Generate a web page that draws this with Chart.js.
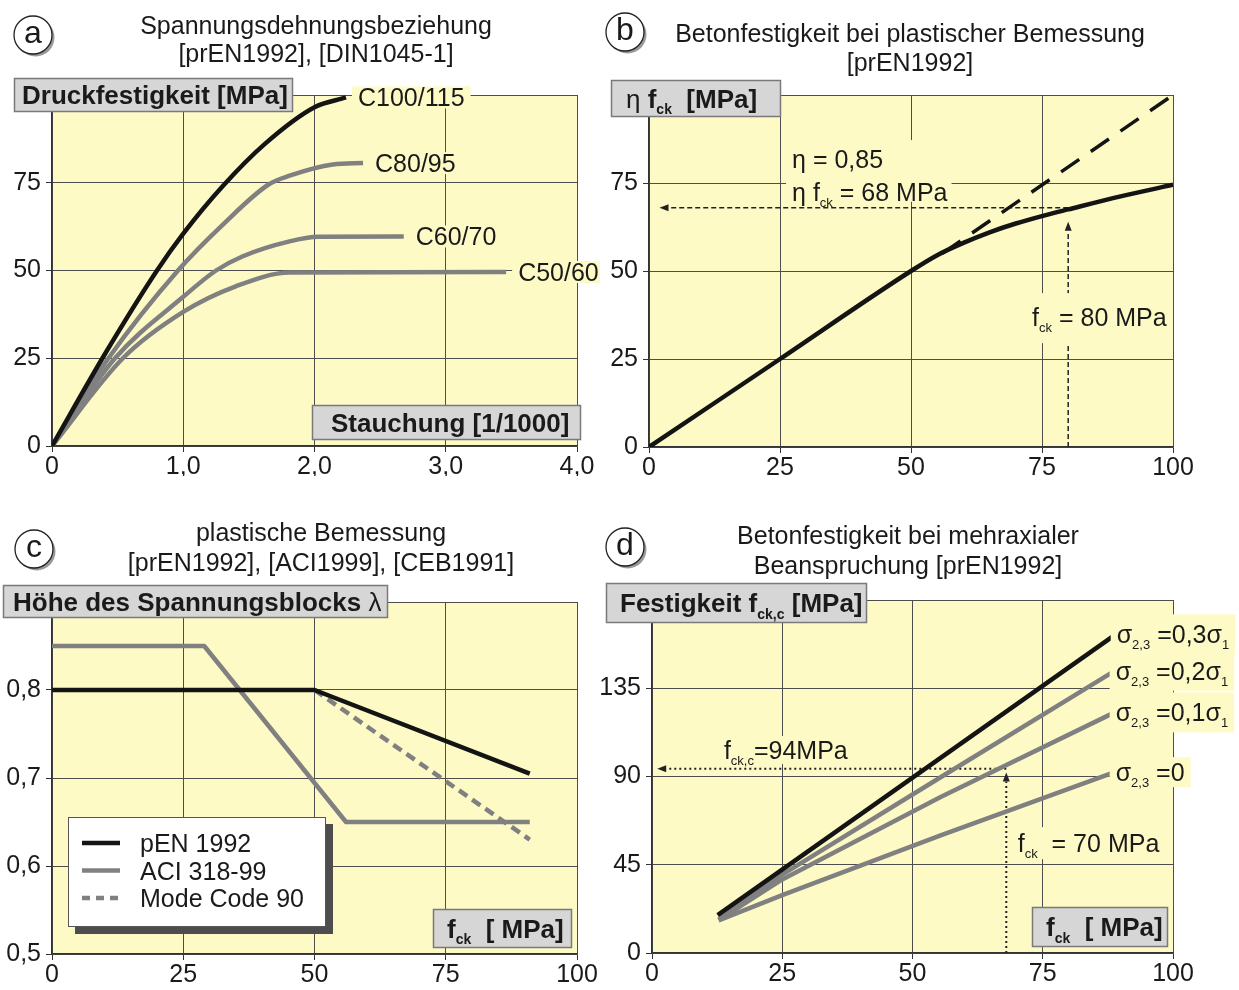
<!DOCTYPE html>
<html>
<head>
<meta charset="utf-8">
<title>Betonfestigkeit</title>
<script src="https://cdn.jsdelivr.net/npm/chart.js@4.4.1/dist/chart.umd.min.js"></script>
<style>
    html, body { margin: 0; padding: 0; background: #fff; }
    #wrap { position: relative; width: 1239px; height: 990px; overflow: hidden; }
    canvas { position: absolute; }
</style>
</head>
<body>
<div id="wrap">
    <canvas id="chart-a" width="600" height="495" style="left:0;top:0"></canvas>
    <canvas id="chart-b" width="639" height="495" style="left:600px;top:0"></canvas>
    <canvas id="chart-c" width="600" height="495" style="left:0;top:495px"></canvas>
    <canvas id="chart-d" width="639" height="495" style="left:600px;top:495px"></canvas>
</div>
<script>
// (a) Spannungsdehnungsbeziehung
var aClasses = ['C100/115', 'C80/95', 'C60/70', 'C50/60'];
var aStrainC100 = [0, 0.4, 0.8, 1.0, 1.3, 1.62, 2.0, 2.24];
var aStressC100 = [0, 26, 50, 60.5, 74, 86, 96.5, 99.3];
var aStrainC80 = [0, 0.43, 0.96, 1.3, 1.65, 1.81, 2.14, 2.37];
var aStressC80 = [0, 25, 50, 63, 74.5, 77, 80.2, 80.6];
var aStrainC60 = [0, 0.48, 1.0, 1.25, 1.45, 1.81, 2.03, 2.68];
var aStressC60 = [0, 25, 42.5, 50, 54, 58.3, 59.6, 59.7];
var aStrainC50 = [0, 0.54, 1.0, 1.4, 1.81, 3.46];
var aStressC50 = [0, 25, 38.2, 45.5, 49.4, 49.6];
var aXTickVals = [0, 1, 2, 3, 4];
var aXTickLabels = ['0', '1,0', '2,0', '3,0', '4,0'];
var aYTickVals = [0, 25, 50, 75, 100];
var aYTickLabels = ['0', '25', '50', '75', ''];

// (b) Betonfestigkeit bei plastischer Bemessung
var bFck = [0, 25, 50, 55, 60, 65, 70, 75, 80, 90, 100];
var bEtaFck = [0, 25, 50, 54.5, 58, 61, 63.5, 65.6, 67.5, 71.2, 74.5];
var bRefFck = [56, 100];
var bRefVal = [55, 100];
var bMarkFck = 80;
var bMarkEtaFck = 68;
var bMarkTip = 64;
var bTickVals = [0, 25, 50, 75, 100];
var bXTickLabels = ['0', '25', '50', '75', '100'];
var bYTickLabels = ['0', '25', '50', '75', ''];

// (c) plastische Bemessung, Hoehe des Spannungsblocks
var cSeries = ['pEN 1992', 'ACI 318-99', 'Mode Code 90'];
var cEnFck = [0, 50, 91];
var cEnLambda = [0.8, 0.8, 0.705];
var cAciFck = [0, 29, 56, 91];
var cAciLambda = [0.85, 0.85, 0.65, 0.65];
var cMcFck = [50, 91];
var cMcLambda = [0.8, 0.63];
var cXTickVals = [0, 25, 50, 75, 100];
var cXTickLabels = ['0', '25', '50', '75', '100'];
var cYTickVals = [0.5, 0.6, 0.7, 0.8, 0.9];
var cYTickLabels = ['0,5', '0,6', '0,7', '0,8', ''];

// (d) mehraxiale Beanspruchung
var dRatios = ['0,3', '0,2', '0,1', '0'];
var dFck03 = [12.6, 89];
var dFcc03 = [19.3, 162.5];
var dFck02 = [12.8, 25, 55.4, 88.8];
var dFcc02 = [17, 40, 89.6, 143.9];
var dFck01 = [12.8, 25, 55.4, 88.8];
var dFcc01 = [16.8, 37.5, 79.5, 122.7];
var dFck0 = [12.8, 25, 55.4, 88.8];
var dFcc0 = [16.6, 29.5, 60, 92.2];
var dMarkFck = 68;
var dMarkFcc = 94;
var dMarkTip = 92;
var dXTickVals = [0, 25, 50, 75, 100];
var dXTickLabels = ['0', '25', '50', '75', '100'];
var dYTickVals = [0, 45, 90, 135, 180];
var dYTickLabels = ['0', '45', '90', '135', ''];

var FONT = "'Liberation Sans', Arial, Helvetica, sans-serif";
var PLOT_BG = '#fdfac6';
var INK = '#1a1a1a';
var BLACK = '#141414';
var GREY = '#808080';

function pts(xs, ys) {
    return xs.map(function (x, i) { return { x: x, y: ys[i] }; });
}

// text with subscripts: parts = [[text, flags]], flags 'b' bold, 's' subscript
function rich(ctx, parts, x, y, size, align) {
    var items = [], total = 0;
    parts.forEach(function (p) {
        var f = p[1] || '';
        var sub = f.indexOf('s') >= 0, bold = f.indexOf('b') >= 0;
        var fs = sub ? Math.round(size * 0.52) : size;
        var font = (bold ? 'bold ' : '') + fs + 'px ' + FONT;
        ctx.font = font;
        var w = ctx.measureText(p[0]).width;
        items.push({ t: p[0], font: font, w: w, dy: sub ? size * 0.24 : 0 });
        total += w;
    });
    var sx = align === 'center' ? x - total / 2 : x;
    var base = y + size * 0.36;
    ctx.save();
    ctx.fillStyle = INK;
    ctx.textAlign = 'left';
    ctx.textBaseline = 'alphabetic';
    items.forEach(function (it) {
        ctx.font = it.font;
        ctx.fillText(it.t, sx, base + it.dy);
        sx += it.w;
    });
    ctx.restore();
    return total;
}

function measureRich(ctx, parts, size) {
    var total = 0;
    parts.forEach(function (p) {
        var f = p[1] || '';
        var sub = f.indexOf('s') >= 0, bold = f.indexOf('b') >= 0;
        ctx.font = (bold ? 'bold ' : '') + (sub ? Math.round(size * 0.52) : size) + 'px ' + FONT;
        total += ctx.measureText(p[0]).width;
    });
    return total;
}

function fillRect(ctx, x, y, w, h, color) {
    ctx.save();
    ctx.fillStyle = color;
    ctx.fillRect(x, y, w, h);
    ctx.restore();
}

function greyBox(ctx, x, y, w, h, parts, tx) {
    ctx.save();
    ctx.fillStyle = '#d6d6d6';
    ctx.fillRect(x, y, w, h);
    ctx.strokeStyle = '#7a7a7a';
    ctx.lineWidth = 1.5;
    ctx.strokeRect(x + 0.5, y + 0.5, w - 1, h - 1);
    ctx.restore();
    rich(ctx, parts, tx, y + h / 2, 26, 'left');
}

function circleLetter(ctx, cx, cy, r, letter) {
    ctx.save();
    ctx.fillStyle = '#9a9a9a';
    ctx.beginPath();
    ctx.arc(cx + 2.5, cy + 2.5, r, 0, Math.PI * 2);
    ctx.fill();
    ctx.fillStyle = '#fff';
    ctx.strokeStyle = '#222';
    ctx.lineWidth = 1.3;
    ctx.beginPath();
    ctx.arc(cx, cy, r, 0, Math.PI * 2);
    ctx.fill();
    ctx.stroke();
    ctx.fillStyle = INK;
    ctx.font = '32px ' + FONT;
    ctx.textAlign = 'center';
    ctx.textBaseline = 'middle';
    ctx.fillText(letter, cx, cy - 1);
    ctx.restore();
}

function titles(ctx, lines, cx, ys) {
    lines.forEach(function (t, i) { rich(ctx, [[t]], cx, ys[i], 25, 'center'); });
}

function arrow(ctx, x1, y1, x2, y2, dash, width) {
    var ang = Math.atan2(y2 - y1, x2 - x1), head = 9, hw = 3.5;
    var ex = x2 - Math.cos(ang) * head, ey = y2 - Math.sin(ang) * head;
    ctx.save();
    ctx.strokeStyle = '#222';
    ctx.fillStyle = '#222';
    ctx.lineWidth = width;
    ctx.setLineDash(dash);
    ctx.beginPath();
    ctx.moveTo(x1, y1);
    ctx.lineTo(ex, ey);
    ctx.stroke();
    ctx.setLineDash([]);
    ctx.beginPath();
    ctx.moveTo(x2, y2);
    ctx.lineTo(ex - Math.sin(ang) * hw, ey + Math.cos(ang) * hw);
    ctx.lineTo(ex + Math.sin(ang) * hw, ey - Math.cos(ang) * hw);
    ctx.closePath();
    ctx.fill();
    ctx.restore();
}

// label next to the last point of a dataset, on a plot-coloured patch
function endLabel(chart, index, parts, dx, padY) {
    var meta = chart.getDatasetMeta(index);
    var last = meta.data[meta.data.length - 1];
    var ctx = chart.ctx;
    var w = measureRich(ctx, parts, 25);
    var x = last.x + dx;
    fillRect(ctx, x - 6, last.y - padY, w + 12, padY * 2, PLOT_BG);
    rich(ctx, parts, x, last.y, 25, 'left');
}

function options(p) {
    var gridColor = '#4d4d4d';
    return {
        responsive: false,
        animation: false,
        layout: {
            padding: { left: 0, top: p.area.t, right: p.w - p.area.r, bottom: p.h - p.area.b - 30 },
        },
        plugins: {
            legend: { display: false },
            tooltip: { enabled: false },
        },
        elements: {
            point: { radius: 0 },
            line: { borderCapStyle: 'butt', borderJoinStyle: 'round' },
        },
        scales: {
            x: {
                type: 'linear',
                min: p.xTicks[0],
                max: p.xTicks[p.xTicks.length - 1],
                afterBuildTicks: function (s) { s.ticks = p.xTicks.map(function (v) { return { value: v }; }); },
                afterFit: function (s) { s.height = 30; },
                ticks: {
                    autoSkip: false,
                    maxRotation: 0,
                    padding: 0,
                    color: INK,
                    font: { family: FONT, size: 25 },
                    callback: function (v, i) { return p.xLabels[i]; },
                },
                grid: { color: gridColor, lineWidth: 1, tickLength: 6, tickColor: '#333' },
                border: { color: '#333', width: 1.5 },
            },
            y: {
                type: 'linear',
                min: p.yTicks[0],
                max: p.yTicks[p.yTicks.length - 1],
                afterBuildTicks: function (s) { s.ticks = p.yTicks.map(function (v) { return { value: v }; }); },
                afterFit: function (s) { s.width = p.area.l; },
                ticks: {
                    autoSkip: false,
                    padding: 5,
                    color: INK,
                    font: { family: FONT, size: 25 },
                    callback: function (v, i) { return p.yLabels[i]; },
                },
                grid: { color: gridColor, lineWidth: 1, tickLength: 6, tickColor: '#333' },
                border: { color: '#333', width: 1.5 },
            },
        },
    };
}

var plotBg = {
    id: 'plotBg',
    beforeDraw: function (chart) {
        var a = chart.chartArea;
        fillRect(chart.ctx, a.left, a.top, a.right - a.left, a.bottom - a.top, PLOT_BG);
    },
};

function line(label, xs, ys, color, extra) {
    var ds = {
        label: label,
        data: pts(xs, ys),
        borderColor: color,
        borderWidth: 4.5,
        fill: false,
        tension: 0,
    };
    Object.keys(extra || {}).forEach(function (k) { ds[k] = extra[k]; });
    return ds;
}

// ---------- (a)
new Chart(document.getElementById('chart-a'), {
    type: 'line',
    data: {
        datasets: [
            line(aClasses[0], aStrainC100, aStressC100, BLACK, { cubicInterpolationMode: 'monotone' }),
            line(aClasses[1], aStrainC80, aStressC80, GREY, { cubicInterpolationMode: 'monotone' }),
            line(aClasses[2], aStrainC60, aStressC60, GREY, { cubicInterpolationMode: 'monotone' }),
            line(aClasses[3], aStrainC50, aStressC50, GREY, { cubicInterpolationMode: 'monotone' }),
        ],
    },
    options: options({
        w: 600, h: 495, area: { l: 52, t: 95, r: 577, b: 446 },
        xTicks: aXTickVals, xLabels: aXTickLabels, yTicks: aYTickVals, yLabels: aYTickLabels,
    }),
    plugins: [plotBg, {
        id: 'panelA',
        afterDatasetsDraw: function (chart) {
            var ctx = chart.ctx;
            aClasses.forEach(function (c, i) { endLabel(chart, i, [[c]], 12, 11); });
            greyBox(ctx, 14, 78, 279, 34, [['Druckfestigkeit [MPa]', 'b']], 22);
            greyBox(ctx, 312, 405, 269, 35, [['Stauchung [1/1000]', 'b']], 331);
            titles(ctx, ['Spannungsdehnungsbeziehung', '[prEN1992], [DIN1045-1]'], 316, [25, 53]);
            circleLetter(ctx, 33, 35, 19, 'a');
        },
    }],
});

// ---------- (b)
new Chart(document.getElementById('chart-b'), {
    type: 'line',
    data: {
        datasets: [
            line('\u03b7 fck', bFck, bEtaFck, BLACK, { cubicInterpolationMode: 'monotone', borderWidth: 4.5 }),
            line('fck', bRefFck, bRefVal, BLACK, { borderDash: [22, 14], borderWidth: 3.5 }),
        ],
    },
    options: options({
        w: 639, h: 495, area: { l: 49, t: 95, r: 573, b: 447 },
        xTicks: bTickVals, xLabels: bXTickLabels, yTicks: bTickVals, yLabels: bYTickLabels,
    }),
    plugins: [plotBg, {
        id: 'panelB',
        beforeDatasetsDraw: function (chart) {
            var ctx = chart.ctx, x = chart.scales.x, y = chart.scales.y;
            var mx = x.getPixelForValue(bMarkFck), my = y.getPixelForValue(bMarkEtaFck);
            arrow(ctx, mx, my, x.getPixelForValue(2), my, [5, 3], 1.5);
            arrow(ctx, mx, y.getPixelForValue(0), mx, y.getPixelForValue(bMarkTip), [5, 3], 1.5);

            var tx = x.getPixelForValue(27.3), t1 = y.getPixelForValue(81.8), t2 = y.getPixelForValue(72.5);
            var l2 = [['\u03b7 f'], ['ck', 's'], [' = 68 MPa']];
            fillRect(ctx, tx - 6, t1 - 19, measureRich(ctx, l2, 25) + 10, t2 - t1 + 29, PLOT_BG);
            rich(ctx, [['\u03b7 = 0,85']], tx, t1, 25, 'left');
            rich(ctx, l2, tx, t2, 25, 'left');

            var fx = x.getPixelForValue(73.1), fy = y.getPixelForValue(36.9);
            var l3 = [['f'], ['ck', 's'], [' = 80 MPa']];
            fillRect(ctx, fx - 4, fy - 24, measureRich(ctx, l3, 25) + 8, 50, PLOT_BG);
            rich(ctx, l3, fx, fy, 25, 'left');
        },
        afterDatasetsDraw: function (chart) {
            var ctx = chart.ctx;
            greyBox(ctx, 11, 80, 170, 37, [['\u03b7 '], ['f', 'b'], ['ck', 'bs'], ['  [MPa]', 'b']], 26);
            titles(ctx, ['Betonfestigkeit bei plastischer Bemessung', '[prEN1992]'], 310, [33, 62]);
            circleLetter(ctx, 25, 32, 19, 'b');
        },
    }],
});

// ---------- (c)
new Chart(document.getElementById('chart-c'), {
    type: 'line',
    data: {
        datasets: [
            line(cSeries[0], cEnFck, cEnLambda, BLACK),
            line(cSeries[1], cAciFck, cAciLambda, GREY),
            line(cSeries[2], cMcFck, cMcLambda, GREY, { borderDash: [10, 6] }),
        ],
    },
    options: options({
        w: 600, h: 495, area: { l: 52, t: 107, r: 577, b: 459 },
        xTicks: cXTickVals, xLabels: cXTickLabels, yTicks: cYTickVals, yLabels: cYTickLabels,
    }),
    plugins: [plotBg, {
        id: 'panelC',
        afterDatasetsDraw: function (chart) {
            var ctx = chart.ctx, a = chart.chartArea;
            // legend
            var lx = a.left + 16, ly = a.top + 215, lw = 258, lh = 110;
            fillRect(ctx, lx + 7, ly + 7, lw, lh, '#4d4d4d');
            fillRect(ctx, lx, ly, lw, lh, '#fff');
            ctx.save();
            ctx.strokeStyle = '#555';
            ctx.lineWidth = 1;
            ctx.strokeRect(lx + 0.5, ly + 0.5, lw - 1, lh - 1);
            ctx.restore();
            chart.data.datasets.forEach(function (ds, i) {
                var yy = ly + 26 + i * 27.5;
                ctx.save();
                ctx.strokeStyle = ds.borderColor;
                ctx.lineWidth = ds.borderWidth;
                ctx.setLineDash(ds.borderDash ? [8, 6] : []);
                ctx.beginPath();
                ctx.moveTo(lx + 14, yy);
                ctx.lineTo(lx + 52, yy);
                ctx.stroke();
                ctx.restore();
                rich(ctx, [[ds.label]], lx + 72, yy, 25, 'left');
            });
            greyBox(ctx, 3, 90, 385, 33, [['H\u00f6he des Spannungsblocks ', 'b'], ['\u03bb']], 13);
            greyBox(ctx, 433, 414, 139, 39, [['f', 'b'], ['ck', 'bs'], ['  [ MPa]', 'b']], 447);
            titles(ctx, ['plastische Bemessung', '[prEN1992], [ACI1999], [CEB1991]'], 321, [37, 67]);
            circleLetter(ctx, 34, 54, 19, 'c');
        },
    }],
});

// ---------- (d)
new Chart(document.getElementById('chart-d'), {
    type: 'line',
    data: {
        datasets: [
            line('\u03c32,3 = ' + dRatios[0], dFck03, dFcc03, BLACK),
            line('\u03c32,3 = ' + dRatios[1], dFck02, dFcc02, GREY),
            line('\u03c32,3 = ' + dRatios[2], dFck01, dFcc01, GREY),
            line('\u03c32,3 = ' + dRatios[3], dFck0, dFcc0, GREY),
        ],
    },
    options: options({
        w: 639, h: 495, area: { l: 52, t: 105, r: 573, b: 458 },
        xTicks: dXTickVals, xLabels: dXTickLabels, yTicks: dYTickVals, yLabels: dYTickLabels,
    }),
    plugins: [plotBg, {
        id: 'panelD',
        beforeDatasetsDraw: function (chart) {
            var ctx = chart.ctx, x = chart.scales.x, y = chart.scales.y;
            var mx = x.getPixelForValue(dMarkFck), my = y.getPixelForValue(dMarkFcc);
            arrow(ctx, mx, my, x.getPixelForValue(1), my, [2, 3], 2);
            arrow(ctx, mx, y.getPixelForValue(0), mx, y.getPixelForValue(dMarkTip), [2, 3], 2);

            var ax = x.getPixelForValue(13.8), ay = y.getPixelForValue(103.5);
            var t1 = [['f'], ['ck,c', 's'], ['=94MPa']];
            fillRect(ctx, ax - 4, ay - 14, measureRich(ctx, t1, 25) + 8, 28, PLOT_BG);
            rich(ctx, t1, ax, ay, 25, 'left');

            var bx = x.getPixelForValue(70.2), by = y.getPixelForValue(56);
            var t2 = [['f'], ['ck', 's'], ['  = 70 MPa']];
            fillRect(ctx, bx - 4, by - 16, measureRich(ctx, t2, 25) + 8, 32, PLOT_BG);
            rich(ctx, t2, bx, by, 25, 'left');
        },
        afterDatasetsDraw: function (chart) {
            var ctx = chart.ctx;
            dRatios.forEach(function (r, i) {
                var parts = [['\u03c3'], ['2,3', 's'], [' =' + r]];
                if (r !== '0') parts = parts.concat([['\u03c3'], ['1', 's']]);
                endLabel(chart, i, parts, 1, i === 3 ? 15 : 20);
            });
            greyBox(ctx, 6, 88, 261, 40, [['Festigkeit f', 'b'], ['ck,c', 'bs'], [' [MPa]', 'b']], 20);
            greyBox(ctx, 432, 412, 136, 40, [['f', 'b'], ['ck', 'bs'], ['  [ MPa]', 'b']], 446);
            titles(ctx, ['Betonfestigkeit bei mehraxialer', 'Beanspruchung [prEN1992]'], 308, [40, 70]);
            circleLetter(ctx, 25, 52, 19, 'd');
        },
    }],
});
</script>
</body>
</html>
